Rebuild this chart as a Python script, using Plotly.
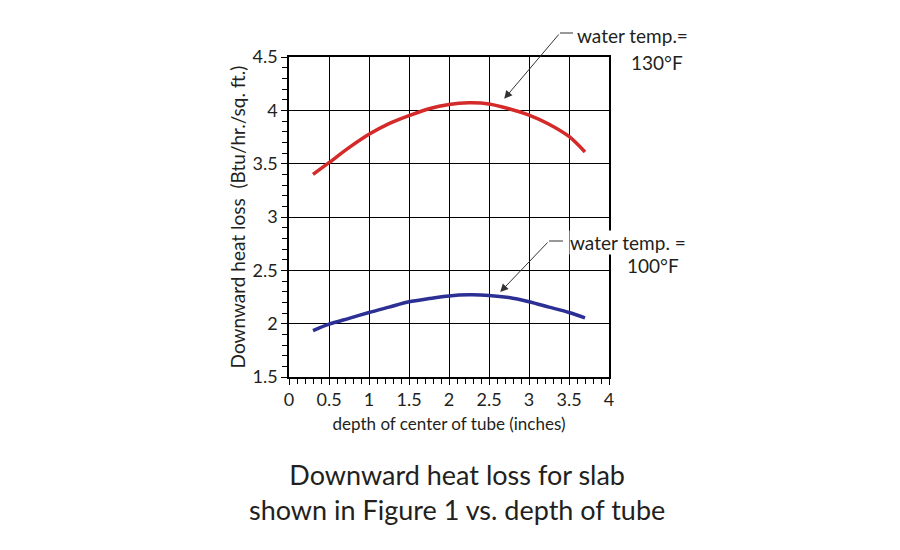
import plotly.graph_objects as go

depth = [0.3, 0.5, 0.75, 1.0, 1.25, 1.5, 1.75, 2.0, 2.25, 2.5, 2.75, 3.0, 3.25, 3.5, 3.7]
loss_130 = [3.40, 3.51, 3.65, 3.775, 3.875, 3.95, 4.015, 4.055, 4.07, 4.06, 4.015, 3.955, 3.87, 3.755, 3.61]
loss_100 = [1.935, 1.995, 2.05, 2.105, 2.155, 2.205, 2.235, 2.26, 2.27, 2.265, 2.245, 2.205, 2.155, 2.105, 2.055]

x_ticks = [0, 0.5, 1, 1.5, 2, 2.5, 3, 3.5, 4]
x_labels = ["0", "0.5", "1", "1.5", "2", "2.5", "3", "3.5", "4"]
y_ticks = [1.5, 2, 2.5, 3, 3.5, 4, 4.5]
y_labels = ["1.5", "2", "2.5", "3", "3.5", "4", "4.5"]

FONT = "Lato"
TXT = "#231f20"

fig = go.Figure()
fig.add_trace(go.Scatter(x=depth, y=loss_130, mode="lines",
                         line=dict(color="#d42a2a", width=3.5, shape="spline", smoothing=0.8),
                         showlegend=False))
fig.add_trace(go.Scatter(x=depth, y=loss_100, mode="lines",
                         line=dict(color="#2c2f93", width=3.5, shape="spline", smoothing=0.8),
                         showlegend=False))

axis_common = dict(
    showline=True, linecolor="black", linewidth=1.5, mirror=True,
    showgrid=True, gridcolor="black", gridwidth=1.3,
    ticks="outside", ticklen=6, tickcolor="black", tickwidth=1,
    tickfont=dict(family=FONT, size=18, color=TXT),
    zeroline=False, automargin=False,
    minor=dict(dtick=0.1, ticks="outside", ticklen=5, tickcolor="black", tickwidth=1, showgrid=False),
)

fig.update_xaxes(range=[0, 4], tickvals=x_ticks, ticktext=x_labels,
                 title=dict(text="depth of center of tube (inches)", font=dict(family=FONT, size=17, color=TXT), standoff=9),
                 **axis_common)
fig.update_yaxes(range=[1.5, 4.5], tickvals=y_ticks, ticktext=y_labels,
                 title=dict(text="Downward heat loss  (Btu/hr./sq. ft.)", font=dict(family=FONT, size=19, color=TXT), standoff=2),
                 **axis_common)

# leader lines for labels
fig.add_shape(type="line", x0=0.847, y0=1.075, x1=0.8875, y1=1.075, xref="paper", yref="paper",
              line=dict(color="#333", width=1))
fig.add_shape(type="line", x0=0.8125, y0=0.425, x1=0.856, y1=0.425, xref="paper", yref="paper",
              line=dict(color="#333", width=1))

fig.add_annotation(x=2.69, y=4.108, ax=3.3875, ay=4.725, xref="x", yref="y", axref="x", ayref="y",
                   text="", showarrow=True, arrowhead=2, arrowsize=1.6, arrowwidth=1, arrowcolor="#333")
fig.add_annotation(x=2.64, y=2.296, ax=3.25, ay=2.775, xref="x", yref="y", axref="x", ayref="y",
                   text="", showarrow=True, arrowhead=2, arrowsize=1.6, arrowwidth=1, arrowcolor="#333")

fig.add_annotation(x=0.894, y=1.067, xref="paper", yref="paper", text="water temp.=", showarrow=False,
                   xanchor="left", yanchor="middle", font=dict(family=FONT, size=19, color=TXT))
fig.add_annotation(x=1.064, y=0.983, xref="paper", yref="paper", text="130°F", showarrow=False,
                   xanchor="left", yanchor="middle", font=dict(family=FONT, size=19, color=TXT))
fig.add_annotation(x=0.875, y=0.419, xref="paper", yref="paper", text="water temp. =", showarrow=False,
                   xanchor="left", yanchor="middle", bgcolor="white", borderpad=0,
                   font=dict(family=FONT, size=19, color=TXT))
fig.add_annotation(x=1.05, y=0.350, xref="paper", yref="paper", text="100°F", showarrow=False,
                   xanchor="left", yanchor="middle", font=dict(family=FONT, size=19, color=TXT))

fig.add_annotation(x=0.525, y=-0.358, xref="paper", yref="paper",
                   text="Downward heat loss for slab<br>shown in Figure 1 vs. depth of tube",
                   showarrow=False, xanchor="center", yanchor="middle",
                   font=dict(family=FONT, size=27, color=TXT))

fig.update_layout(width=900, height=550, margin=dict(l=281, r=299, t=49, b=181, autoexpand=False),
                  plot_bgcolor="white", paper_bgcolor="white")

fig.write_html("out.html")
